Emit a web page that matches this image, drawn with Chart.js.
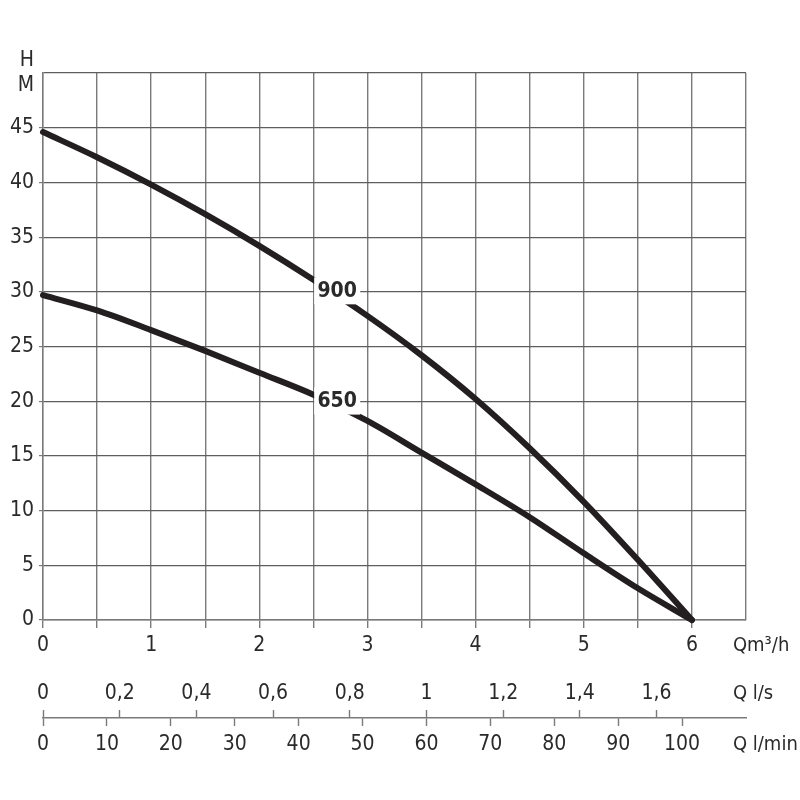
<!DOCTYPE html>
<html>
<head>
<meta charset="utf-8">
<title>Pump curves</title>
<script src="https://cdn.jsdelivr.net/npm/chart.js@4.4.1/dist/chart.umd.min.js"></script>
<style>
  html, body { margin: 0; padding: 0; background: #fff; }
  canvas { display: block; }
</style>
</head>
<body>
<canvas id="pumpChart" width="800" height="800"></canvas>
<script>
// flow (m3/h) and head (m)
var flowM3h = [0, 0.5, 1, 1.5, 2, 2.5, 3, 3.5, 4, 4.5, 5, 5.5, 6];
var head900 = [44.6, 42.3, 39.8, 37.1, 34.2, 31.1, 27.8, 24.2, 20.2, 15.7, 10.8, 5.5, 0];
var head650 = [29.7, 28.3, 26.5, 24.6, 22.6, 20.6, 18.2, 15.3, 12.4, 9.4, 6.1, 2.9, 0];
var seriesNames = ['900', '650'];

// tick positions on each axis
var flowTicks = [0, 0.5, 1, 1.5, 2, 2.5, 3, 3.5, 4, 4.5, 5, 5.5, 6, 6.5];
var headTicks = [0, 5, 10, 15, 20, 25, 30, 35, 40, 45, 50];
var litreSecTicks = [0, 0.2, 0.4, 0.6, 0.8, 1, 1.2, 1.4, 1.6];
var litreMinTicks = [0, 10, 20, 30, 40, 50, 60, 70, 80, 90, 100];
var unitLabels = ['Qm\u00b3/h', 'Q l/s', 'Q l/min'];

var gridGrey = '#7a7a7a';
var textGrey = '#2a2a2a';
var curveBlack = '#231f20';
var noColor = 'rgba(0,0,0,0)';
var narrowFont = "'Liberation Sans Narrow', 'Arial Narrow', 'DejaVu Sans Condensed', sans-serif";
var tickFont = {family: narrowFont, size: 21};
var labelFlow = 2.72; // where the series names sit along the curves

function setHeight(h) {
    return function (scale) { scale.height = h; };
}

function useTicks(list) {
    return function (scale) {
        scale.ticks = list.map(function (v) { return {value: v}; });
    };
}

function toPoints(ys) {
    return flowM3h.map(function (q, i) { return {x: q, y: ys[i]}; });
}

// series names on a white box, sitting on each curve
var curveLabels = {
    id: 'curveLabels',
    afterDatasetsDraw: function (chart) {
        var ctx = chart.ctx;
        var px = chart.scales.x.getPixelForValue(labelFlow);
        ctx.save();
        ctx.font = 'bold 21px ' + narrowFont;
        ctx.textAlign = 'center';
        ctx.textBaseline = 'middle';
        chart.data.datasets.forEach(function (ds, i) {
            var pt = chart.getDatasetMeta(i).dataset.interpolate({x: px}, 'x');
            if (!pt) return;
            var cy = pt.y - 5;
            ctx.fillStyle = '#ffffff';
            ctx.fillRect(px - 23, cy - 13, 46, 27);
            ctx.fillStyle = textGrey;
            ctx.fillText(ds.label, px, cy + 1);
        });
        ctx.restore();
    }
};

// unit names at the right end of the three flow axes
var unitTitles = {
    id: 'unitTitles',
    afterDraw: function (chart) {
        var ctx = chart.ctx;
        var left = chart.scales.x.getPixelForValue(6) + 41;
        ctx.save();
        ctx.font = '20px ' + narrowFont;
        ctx.fillStyle = textGrey;
        ctx.textAlign = 'left';
        ctx.textBaseline = 'middle';
        ['x', 'xls', 'xlm'].forEach(function (id, i) {
            var item = chart.scales[id].getLabelItems()[0];
            ctx.fillText(unitLabels[i], left, item.options.translation[1] + item.textOffset);
        });
        ctx.restore();
    }
};

var pumpChart = new Chart(document.getElementById('pumpChart'), {
    type: 'line',
    data: {
        datasets: [
            {label: seriesNames[0], data: toPoints(head900)},
            {label: seriesNames[1], data: toPoints(head650)}
        ].map(function (ds) {
            ds.xAxisID = 'x';
            ds.yAxisID = 'y';
            ds.borderColor = curveBlack;
            ds.borderWidth = 6;
            ds.pointRadius = 0;
            ds.cubicInterpolationMode = 'monotone';
            ds.borderCapStyle = 'round';
            ds.clip = false;
            return ds;
        })
    },
    options: {
        responsive: false,
        animation: false,
        layout: {padding: {top: 73, right: 54, bottom: 20, left: 0}},
        plugins: {legend: {display: false}, tooltip: {enabled: false}},
        scales: {
            x: {
                type: 'linear', axis: 'x', position: 'bottom', weight: 0,
                min: 0, max: 6.5,
                afterBuildTicks: useTicks(flowTicks),
                afterFit: setHeight(50),
                grid: {
                    color: gridGrey, lineWidth: 1.4, tickLength: 8,
                    tickColor: function (c) { return c.tick && c.tick.value === 6.5 ? noColor : gridGrey; }
                },
                border: {color: gridGrey, width: 1.4},
                ticks: {
                    autoSkip: false, maxRotation: 0, padding: 5, color: textGrey, font: tickFont,
                    callback: function (v) { return Number.isInteger(v) && v <= 6 ? String(v) : ''; }
                }
            },
            xls: {
                type: 'linear', axis: 'x', position: 'bottom', weight: 1,
                min: 0, max: 110 / 60,
                afterBuildTicks: useTicks(litreSecTicks),
                afterFit: setHeight(48),
                grid: {
                    drawOnChartArea: false, tickLength: 48, tickColor: gridGrey, tickWidth: 1.4,
                    tickBorderDash: [0, 40, 8, 100]
                },
                border: {display: false},
                ticks: {
                    autoSkip: false, maxRotation: 0, padding: -37, color: textGrey, font: tickFont,
                    callback: function (v) { return String(v).replace('.', ','); }
                }
            },
            xlm: {
                type: 'linear', axis: 'x', position: 'bottom', weight: 2,
                min: 0, max: 110,
                afterBuildTicks: useTicks(litreMinTicks),
                afterFit: setHeight(62),
                grid: {drawOnChartArea: false, tickLength: 8, tickColor: gridGrey, tickWidth: 1.4},
                border: {color: gridGrey, width: 1.4},
                ticks: {autoSkip: false, maxRotation: 0, padding: 6, color: textGrey, font: tickFont}
            },
            y: {
                type: 'linear', position: 'left',
                min: 0, max: 50,
                afterBuildTicks: useTicks(headTicks),
                afterFit: function (scale) { scale.width = 43; },
                grid: {
                    color: '#5e5e5e', lineWidth: 1.2, tickLength: 4,
                    tickColor: function (c) { return c.tick && c.tick.value === 50 ? noColor : gridGrey; }
                },
                border: {color: gridGrey, width: 1.4},
                ticks: {
                    autoSkip: false, padding: 5, color: textGrey, font: tickFont,
                    callback: function (v) { return v === 50 ? ['H', 'M'] : String(v); }
                }
            }
        }
    },
    plugins: [curveLabels, unitTitles]
});
</script>
</body>
</html>
